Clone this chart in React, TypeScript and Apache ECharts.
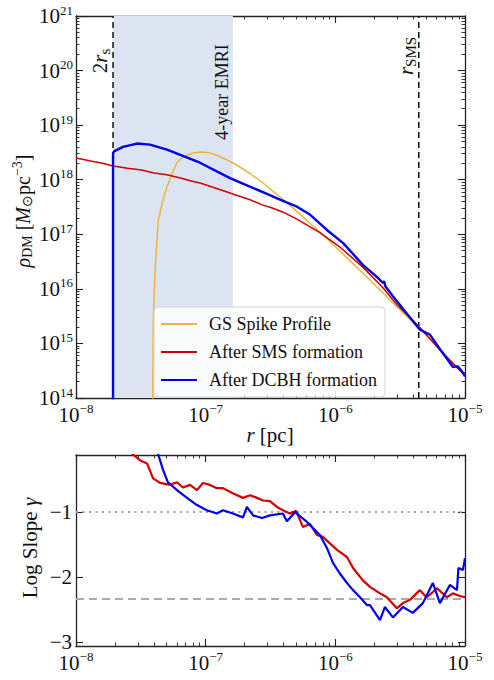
import React, { useEffect, useRef } from "react";
import * as echarts from "echarts";

const FONT = '"Liberation Serif", "Times New Roman", serif';

// ---------- Top panel: dark-matter density rho_DM [Msun pc^-3] vs r [pc] ----------
const gsSpikeR = [3.876e-8, 3.945e-8, 4.07e-8, 4.31e-8, 4.45e-8, 4.69e-8, 5.03e-8, 5.5e-8, 6.01e-8, 6.56e-8, 7.18e-8, 7.98e-8, 9.04e-8, 1.04e-7, 1.22e-7, 1.41e-7, 1.62e-7, 2.2e-7, 2.77e-7, 4.23e-7, 8.02e-7, 1.23e-6, 1.85e-6, 2.78e-6, 4.49e-6, 1e-5];
const gsSpikeRho = [1e13, 2.7e15, 2.2e16, 1.8e17, 2.45e17, 4.3e17, 7.4e17, 1.28e18, 2.05e18, 2.5e18, 2.8e18, 3.1e18, 3.22e18, 3.15e18, 2.8e18, 2.4e18, 2.05e18, 1.3e18, 8.7e17, 3.8e17, 9.8e16, 3.7e16, 1.45e16, 5.5e15, 1.86e15, 2.6e14];

const smsR = [1e-8, 1.3e-8, 1.6e-8, 1.93e-8, 2.5e-8, 3.2e-8, 4e-8, 5.03e-8, 6.5e-8, 7.6e-8, 9.04e-8, 1.2e-7, 1.54e-7, 2.2e-7, 2.7e-7, 3.3e-7, 4.1e-7, 5.06e-7, 7.6e-7, 1.08e-6, 1.63e-6, 2.33e-6, 2.98e-6, 3.6e-6, 4.49e-6, 6.4e-6, 8.5e-6, 1e-5];
const smsRho = [2.51e18, 2.2e18, 2.0e18, 1.78e18, 1.62e18, 1.5e18, 1.33e18, 1.23e18, 1.06e18, 9.6e17, 8.7e17, 7.0e17, 5.7e17, 4.3e17, 3.5e17, 3.0e17, 2.45e17, 1.9e17, 1.07e17, 5.9e16, 2.5e16, 1.05e16, 5.1e15, 3.3e15, 1.95e15, 7.6e14, 3.8e14, 2.6e14];

const dcbhR = [1.93e-8, 1.93e-8, 1.96e-8, 2.3e-8, 2.95e-8, 3.72e-8, 5.03e-8, 9.04e-8, 1.54e-7, 2.08e-7, 2.97e-7, 3.74e-7, 5.06e-7, 6.37e-7, 8.61e-7, 1.15e-6, 1.63e-6, 2.09e-6, 2.33e-6, 2.38e-6, 2.43e-6, 2.78e-6, 3.32e-6, 4.49e-6, 5.36e-6, 6.4e-6, 8.07e-6, 8.8e-6, 9.64e-6, 1e-5];
const dcbhRho = [1e13, 3.0e18, 3.3e18, 4.0e18, 4.6e18, 4.4e18, 3.55e18, 2.05e18, 1.07e18, 7.9e17, 5.5e17, 4.3e17, 3.2e17, 2.3e17, 1.2e17, 6.9e16, 2.75e16, 1.66e16, 1.28e16, 1.38e16, 1.12e16, 7.3e15, 4.3e15, 1.78e15, 1.45e15, 7.9e14, 3.7e14, 3.8e14, 2.9e14, 2.5e14];

// ---------- Bottom panel: logarithmic slope gamma ----------
const smsSlopeR = [2.7e-8, 3.11e-8, 3.53e-8, 3.93e-8, 4.45e-8, 5.31e-8, 6.01e-8, 6.68e-8, 7.57e-8, 8.57e-8, 9.53e-8, 1.08e-7, 1.22e-7, 1.36e-7, 1.62e-7, 1.94e-7, 2.2e-7, 2.49e-7, 2.77e-7, 3.13e-7, 3.55e-7, 3.94e-7, 4.47e-7, 4.98e-7, 5.63e-7, 6.37e-7, 7.21e-7, 8.02e-7, 9.08e-7, 1.03e-6, 1.23e-6, 1.37e-6, 1.63e-6, 1.85e-6, 2.21e-6, 2.5e-6, 2.98e-6, 3.32e-6, 3.76e-6, 4.49e-6, 5.05e-6, 5.65e-6, 6.07e-6, 7.24e-6, 8.07e-6, 9.14e-6, 1e-5];
const smsSlope = [-0.1, -0.2, -0.25, -0.48, -0.55, -0.58, -0.54, -0.62, -0.58, -0.66, -0.55, -0.58, -0.63, -0.63, -0.71, -0.78, -0.74, -0.78, -0.82, -0.83, -0.92, -0.97, -1.02, -0.98, -1.23, -1.18, -1.35, -1.38, -1.48, -1.58, -1.69, -1.86, -2.05, -2.15, -2.25, -2.31, -2.48, -2.4, -2.35, -2.2, -2.31, -2.23, -2.17, -2.31, -2.25, -2.29, -2.31];

const dcbhSlopeR = [4.29e-8, 4.69e-8, 5.12e-8, 6.01e-8, 7.18e-8, 8.57e-8, 1.02e-7, 1.22e-7, 1.36e-7, 1.62e-7, 1.94e-7, 2.08e-7, 2.32e-7, 2.72e-7, 3.13e-7, 3.94e-7, 4.23e-7, 4.89e-7, 6.04e-7, 7.6e-7, 8.61e-7, 9.59e-7, 1.08e-6, 1.23e-6, 1.37e-6, 1.55e-6, 1.75e-6, 1.85e-6, 2.21e-6, 2.41e-6, 2.78e-6, 3.32e-6, 3.96e-6, 4.73e-6, 5.65e-6, 6.4e-6, 7.65e-6, 8.67e-6, 8.9e-6, 9.64e-6, 1e-5];
const dcbhSlope = [-0.1, -0.35, -0.54, -0.66, -0.78, -0.89, -0.97, -1.02, -0.97, -1.02, -1.08, -0.92, -1.05, -1.09, -1.05, -1.02, -1.14, -1.0, -1.15, -1.35, -1.55, -1.78, -1.94, -2.09, -2.2, -2.31, -2.43, -2.43, -2.66, -2.46, -2.62, -2.46, -2.55, -2.4, -2.09, -2.4, -2.12, -2.2, -1.86, -1.89, -1.71];

// ---------- Reference marks ----------
const r2s = 1.93e-8;
const rSMS = 4.4e-6;
const emriOuter = 1.62e-7;
const slopeCore = -1;
const slopeSpike = -2.33;

const xRange = [1e-8, 1e-5];
const rhoRange = [1e14, 1e21];
const slopeRange = [-3.06, -0.12];
const slopeTicks = [-3, -2, -1];

const legendNames = ["GS Spike Profile", "After SMS formation", "After DCBH formation"];
const colors = { gs: "#EDB43E", sms: "#D40000", dcbh: "#0000EE" };

const pairs = (xs: number[], ys: number[]) => xs.map((x, i) => [x, ys[i]]);

function minorLogTicks(lo: number, hi: number) {
  const out: number[] = [];
  for (let e = lo; e < hi; e++) for (let k = 2; k <= 9; k++) out.push(e + Math.log10(k));
  return out;
}
const minus = (n: number) => (n < 0 ? "\u2212" + Math.abs(n) : String(n));

const INK = "#111";
const tickRich = () => ({
  b: { fontFamily: FONT, fontSize: 21, color: INK, verticalAlign: "middle" },
  s: { fontFamily: FONT, fontSize: 13, color: INK, padding: [0, 0, 12, 0], verticalAlign: "middle" },
});
const logLabel = (v: number) => `{b|10}{s|${minus(Math.round(Math.log10(v)))}}`;

const spine = () => ({ show: true, onZero: false, lineStyle: { color: "#222", width: 1.3 } });
const majorTick = (custom?: number[]) => {
  const t: any = { show: true, inside: true, length: 7, lineStyle: { color: "#222", width: 1.1 } };
  if (custom) t.customValues = custom;
  return t;
};
const minorTick = (custom: number[]) => ({ show: true, inside: true, length: 3.5, customValues: custom, lineStyle: { color: "#222", width: 0.9 } });

function logAxis(grid: number, position: string, range: number[], split: number, labels: boolean) {
  return {
    type: "log", gridIndex: grid, position, min: range[0], max: range[1], splitNumber: split,
    axisLine: spine(), axisTick: majorTick(), splitLine: { show: false },
    axisLabel: labels ? { margin: position === "left" ? 3 : 4, formatter: logLabel, rich: tickRich() } : { show: false },
  };
}
function minorAxis(grid: number, position: string, lo: number, hi: number) {
  return {
    type: "value", gridIndex: grid, position, min: lo, max: hi,
    axisLine: { show: false }, axisTick: minorTick(minorLogTicks(lo, hi)),
    axisLabel: { show: false }, splitLine: { show: false },
  };
}

const titleRich = (size: number) => ({
  n: { fontFamily: FONT, fontSize: size, fill: INK, verticalAlign: "middle" },
  i: { fontFamily: FONT, fontSize: size, fontStyle: "italic", fill: INK, verticalAlign: "middle" },
  sub: { fontFamily: FONT, fontSize: Math.round(size * 0.7), fill: INK, padding: [9, 0, 0, 0], verticalAlign: "middle" },
  sup: { fontFamily: FONT, fontSize: Math.round(size * 0.7), fill: INK, padding: [0, 0, 12, 0], verticalAlign: "middle" },
});

function rotText(x: number, y: number, text: string, size: number, rotate = true) {
  return {
    type: "text",
    x,
    y,
    rotation: rotate ? Math.PI / 2 : 0,
    silent: true,
    z: 100,
    style: {
      text,
      rich: titleRich(size),
      fontFamily: FONT,
      fontSize: size,
      fill: INK,
      align: "center",
      verticalAlign: "middle",
    },
  };
}

function vLine(r: number) {
  return {
    type: "line", xAxisIndex: 0, yAxisIndex: 0, z: 2, silent: true,
    data: [[r, rhoRange[0]], [r, rhoRange[1]]], symbol: "none",
    lineStyle: { type: [6, 4], color: "#111", width: 1.5 },
  };
}

export default function App() {
  const ref = useRef<HTMLDivElement>(null);
  const errRef = useRef<HTMLDivElement>(null);

  useEffect(() => {
    if (!ref.current) return;
    const chart = echarts.init(ref.current, undefined, { renderer: "svg" });

    const topGrid = { left: 76, top: 16, width: 389, height: 382 };
    const botGrid = { left: 76, top: 455, width: 389, height: 191 };

    const option: any = {
      animation: false,
      backgroundColor: "#fff",
      grid: [{ ...topGrid }, { ...topGrid }, { ...botGrid }, { ...botGrid }],
      xAxis: [
        logAxis(0, "bottom", xRange, 3, true),
        logAxis(0, "top", xRange, 3, false),
        minorAxis(1, "bottom", -8, -5),
        minorAxis(1, "top", -8, -5),
        logAxis(2, "bottom", xRange, 3, true),
        logAxis(2, "top", xRange, 3, false),
        minorAxis(3, "bottom", -8, -5),
        minorAxis(3, "top", -8, -5),
      ],
      yAxis: [
        logAxis(0, "left", rhoRange, 7, true),
        logAxis(0, "right", rhoRange, 7, false),
        minorAxis(1, "left", 14, 21),
        minorAxis(1, "right", 14, 21),
        {
          type: "value", gridIndex: 2, position: "left", min: slopeRange[0], max: slopeRange[1],
          axisLine: spine(), axisTick: majorTick(slopeTicks), splitLine: { show: false },
          axisLabel: {
            customValues: slopeTicks, margin: 4, fontFamily: FONT, fontSize: 21, color: INK,
            formatter: (v: number) => minus(Math.round(v)),
          },
        },
        {
          type: "value", gridIndex: 2, position: "right", min: slopeRange[0], max: slopeRange[1],
          axisLine: spine(), axisTick: majorTick(slopeTicks), splitLine: { show: false },
          axisLabel: { show: false },
        },
        { type: "value", gridIndex: 3, show: false, min: 0, max: 1 },
      ],
      legend: {
        data: legendNames,
        orient: "vertical",
        left: 154,
        top: 307,
        itemWidth: 36,
        itemHeight: 15,
        itemGap: 10,
        padding: [8, 8, 8, 6],
        itemStyle: { opacity: 0 },
        backgroundColor: "rgba(255,255,255,0.85)",
        borderColor: "#d4d4d4",
        borderWidth: 1,
        borderRadius: 4,
        textStyle: { fontFamily: FONT, fontSize: 18, color: INK, padding: [0, 0, 0, 7] },
      },
      series: [
        {
          name: "EMRI band", type: "line", xAxisIndex: 0, yAxisIndex: 0, z: 1, silent: true,
          data: [], symbol: "none",
          markArea: {
            silent: true,
            itemStyle: { color: "#dce3f1" },
            data: [[{ xAxis: r2s }, { xAxis: emriOuter }]],
          },
        },
        vLine(r2s),
        vLine(rSMS),
        {
          name: legendNames[0], type: "line", xAxisIndex: 0, yAxisIndex: 0, z: 3,
          data: pairs(gsSpikeR, gsSpikeRho), symbol: "none",
          lineStyle: { color: colors.gs, width: 1.5 }, itemStyle: { color: colors.gs },
        },
        {
          name: legendNames[1], type: "line", xAxisIndex: 0, yAxisIndex: 0, z: 3,
          data: pairs(smsR, smsRho), symbol: "none",
          lineStyle: { color: colors.sms, width: 1.5 }, itemStyle: { color: colors.sms },
        },
        {
          name: legendNames[2], type: "line", xAxisIndex: 0, yAxisIndex: 0, z: 3,
          data: pairs(dcbhR, dcbhRho), symbol: "none",
          lineStyle: { color: colors.dcbh, width: 2.4 }, itemStyle: { color: colors.dcbh },
        },
        {
          name: "sms slope", type: "line", xAxisIndex: 4, yAxisIndex: 4, z: 3,
          data: pairs(smsSlopeR, smsSlope), symbol: "none",
          lineStyle: { color: colors.sms, width: 2.2 }, itemStyle: { color: colors.sms },
          markLine: {
            silent: true, symbol: "none", label: { show: false }, z: 2,
            data: [
              { yAxis: slopeCore, lineStyle: { type: [2, 4.5], color: "#a0a0a0", width: 1.8 } },
              { yAxis: slopeSpike, lineStyle: { type: [8, 5], color: "#aaaaaa", width: 1.8 } },
            ],
          },
        },
        {
          name: "dcbh slope", type: "line", xAxisIndex: 4, yAxisIndex: 4, z: 3,
          data: pairs(dcbhSlopeR, dcbhSlope), symbol: "none",
          lineStyle: { color: colors.dcbh, width: 2.2 }, itemStyle: { color: colors.dcbh },
        },
      ],
      graphic: [
        rotText(23, 211, "{i|ρ}{sub|DM} {n|[}{i|M}{sub|⊙}{n|pc}{sup|\u22123}{n|]}", 20),
        rotText(270, 435, "{i|r} {n|[pc]}", 21, false),
        rotText(30, 548, "{n|Log Slope }{i|γ}", 21),
        rotText(100, 61, "{n|2}{i|r}{sub|s}", 21),
        rotText(222, 92, "{n|4-year EMRI}", 18),
        rotText(406, 56, "{i|r}{sub|SMS}", 21),
      ],
    };

    try {
      chart.setOption(option);
    } catch (e: any) {
      if (errRef.current) errRef.current.textContent = String(e && e.stack).slice(0, 600);
    }
    return () => chart.dispose();
  }, []);

  return (
    <div style={{ position: "absolute", left: 0, top: 0, width: 494, height: 680 }}>
      <div ref={ref} style={{ width: 494, height: 680, background: "#fff" }} />
      <div ref={errRef} style={{ position: "absolute", left: 0, top: 0, fontSize: 10, fontFamily: "monospace" }} />
    </div>
  );
}
